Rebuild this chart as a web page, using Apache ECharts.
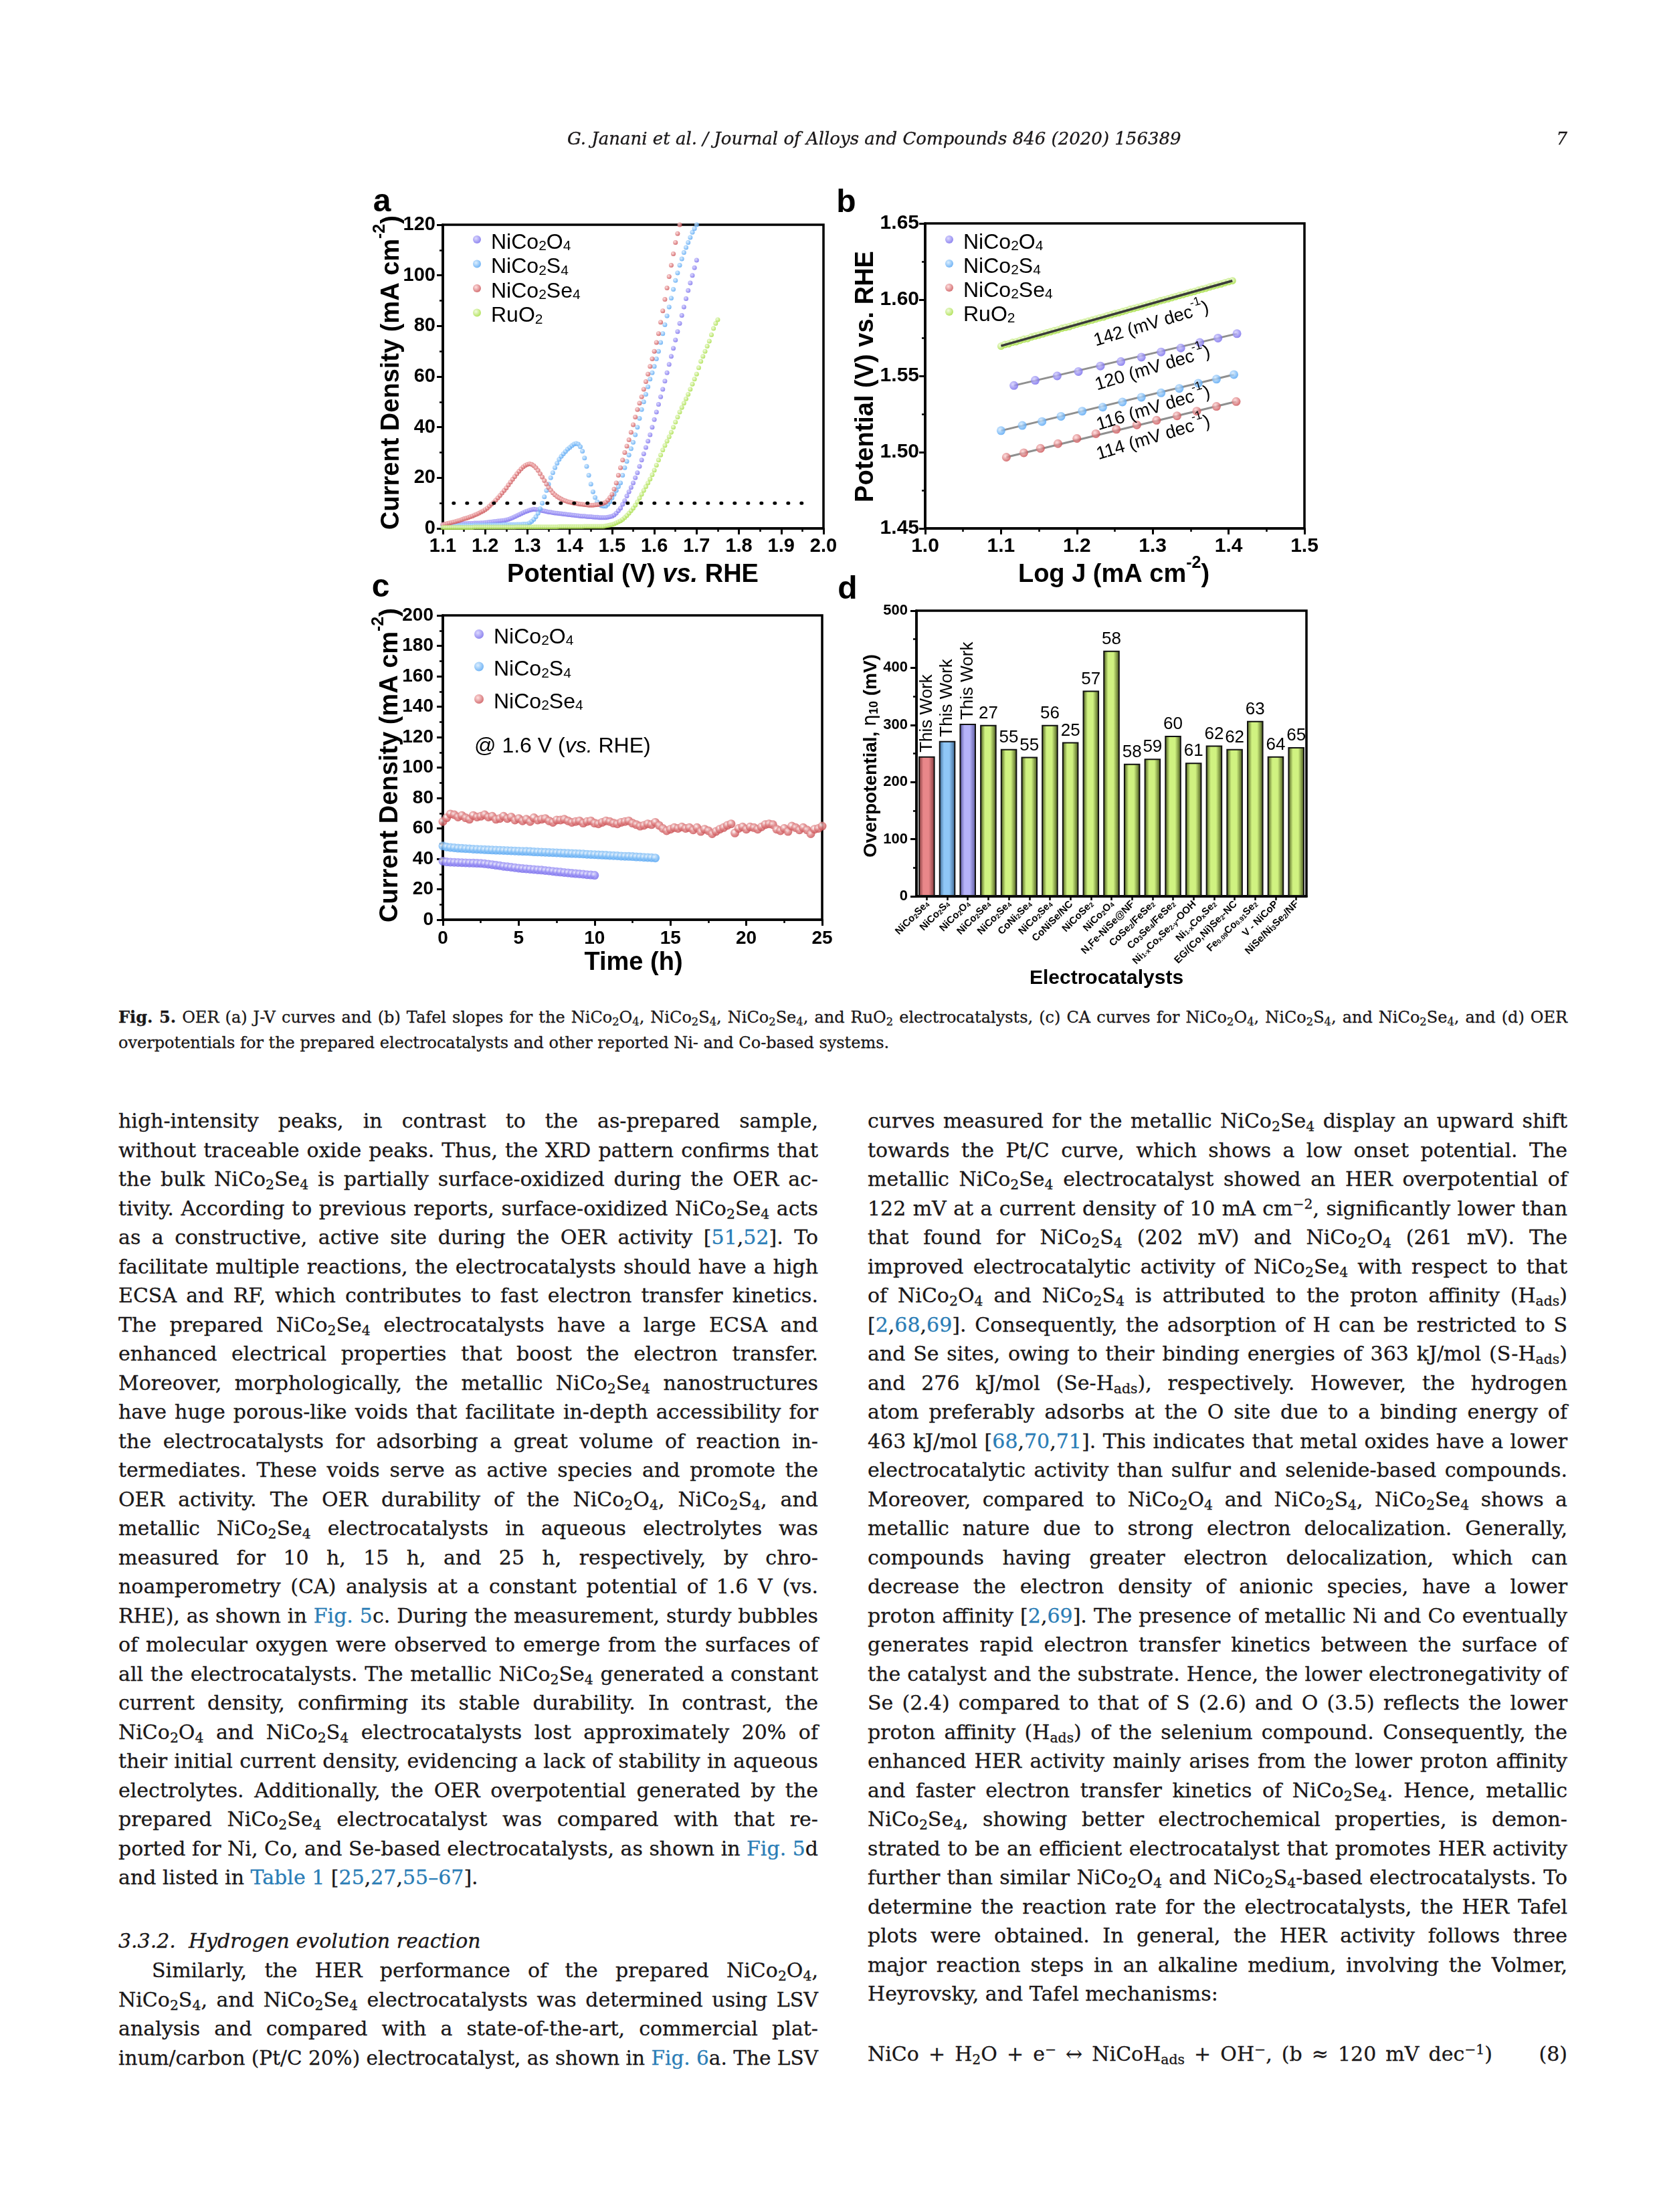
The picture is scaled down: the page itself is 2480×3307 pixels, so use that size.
<!DOCTYPE html>
<html lang="en"><head><meta charset="utf-8"><title>Fig. 5 – OER of NiCo2O4, NiCo2S4, NiCo2Se4</title>
<script src="https://cdn.jsdelivr.net/npm/echarts@6/dist/echarts.min.js"></script>
<style>
html,body{margin:0;padding:0;background:#fff}
body{width:2480px;height:3307px;position:relative;overflow:hidden}
#chart{position:absolute;left:0;top:0;width:2480px;height:1480px}
.ln{position:absolute;white-space:nowrap;font-family:"DejaVu Serif","Liberation Serif",serif;font-size:30px;line-height:44px;height:44px;color:#1a1718;-webkit-text-stroke:0.3px currentColor;transform-origin:0 50%}
.ln sub{font-size:0.68em;vertical-align:-0.25em;line-height:0}
.ln sup{font-size:0.68em;vertical-align:0.5em;line-height:0}
.ln a{color:#2a7db6;text-decoration:none}
.ln.cap{font-size:24px;line-height:38px;height:38px}
.ln.hd{font-size:26px;font-style:italic}
</style></head>
<body>
<div id="chart"></div>
<script>
// ---------------- DATA ----------------
// (a) LSV: potential (V vs RHE) and current density (mA cm-2)
const potentialV = [
1.100,1.105,1.110,1.115,1.120,1.125,1.130,1.135,1.140,1.145,
1.150,1.155,1.160,1.165,1.170,1.175,1.180,1.185,1.190,1.195,
1.200,1.205,1.210,1.215,1.220,1.225,1.230,1.235,1.240,1.245,
1.250,1.255,1.260,1.265,1.270,1.275,1.280,1.285,1.290,1.295,
1.300,1.305,1.310,1.315,1.320,1.325,1.330,1.335,1.340,1.345,
1.350,1.355,1.360,1.365,1.370,1.375,1.380,1.385,1.390,1.395,
1.400,1.405,1.410,1.415,1.420,1.425,1.430,1.435,1.440,1.445,
1.450,1.455,1.460,1.465,1.470,1.475,1.480,1.485,1.490,1.495,
1.500,1.505,1.510,1.515,1.520,1.525,1.530,1.535,1.540,1.545,
1.550,1.555,1.560,1.565,1.570,1.575,1.580,1.585,1.590,1.595,
1.600,1.605,1.610,1.615,1.620,1.625,1.630,1.635,1.640,1.645,
1.650,1.655,1.660,1.665,1.670,1.675,1.680,1.685,1.690,1.695,
1.700,1.705,1.710,1.715,1.720,1.725,1.730,1.735,1.740,1.745,
1.750];
const jvNiCo2O4 = [
1.5,1.5,1.6,1.6,1.7,1.7,1.8,1.8,1.8,1.9,
1.9,1.9,2.0,2.0,2.0,2.1,2.1,2.1,2.2,2.2,
2.3,2.4,2.5,2.6,2.7,2.8,2.9,3.0,3.1,3.2,
3.4,3.6,3.9,4.2,4.6,5.0,5.4,5.8,6.2,6.6,
6.9,7.2,7.4,7.6,7.5,7.4,7.2,7.0,6.9,6.7,
6.5,6.4,6.2,6.1,6.0,5.9,5.8,5.7,5.6,5.5,
5.4,5.3,5.2,5.1,5.0,4.9,4.8,4.8,4.7,4.6,
4.6,4.5,4.4,4.4,4.3,4.3,4.3,4.3,4.4,4.6,
4.8,5.3,6.0,7.0,8.0,9.5,11.0,12.8,14.5,16.2,
18.0,20.0,22.0,24.5,27.0,29.5,32.0,34.5,37.0,40.0,
43.0,46.0,49.0,52.0,55.0,58.2,61.5,64.8,68.0,71.2,
74.5,77.8,81.0,84.2,87.5,90.8,94.0,97.0,100.0,103.0,
106.0];
const jvNiCo2S4 = [
1.0,1.0,1.0,1.0,1.1,1.1,1.1,1.1,1.1,1.2,
1.2,1.2,1.2,1.2,1.2,1.3,1.3,1.3,1.3,1.3,
1.3,1.3,1.4,1.4,1.4,1.4,1.4,1.4,1.4,1.5,
1.5,1.5,1.5,1.5,1.5,1.6,1.6,1.6,1.7,1.7,
1.8,2.2,2.8,3.6,4.6,6.0,7.8,10.0,12.5,15.0,
17.5,20.0,22.0,24.0,25.8,27.3,28.5,29.5,30.4,31.3,
32.0,32.7,33.3,33.6,33.3,32.3,30.5,27.8,24.5,21.0,
17.5,14.5,12.2,10.5,9.5,9.0,8.8,8.8,9.5,10.5,
12.0,13.5,15.0,16.5,18.0,21.0,24.0,26.5,29.0,31.5,
34.0,37.0,40.0,43.5,47.0,50.0,53.0,56.0,59.0,61.5,
64.0,67.0,70.0,73.5,77.0,80.5,84.0,87.5,91.0,94.5,
98.0,101.0,104.0,106.5,109.0,111.0,113.0,115.0,117.0,118.5,
120.0];
const jvNiCo2Se4 = [
1.5,1.7,1.9,2.1,2.3,2.5,2.7,3.0,3.2,3.5,
3.8,4.0,4.3,4.6,4.9,5.3,5.6,6.0,6.5,6.9,
7.4,8.0,8.8,9.6,10.3,11.2,12.1,13.0,14.0,15.0,
16.0,17.2,18.3,19.4,20.5,21.6,22.6,23.5,24.3,24.9,
25.3,25.5,25.3,24.8,24.0,22.9,21.6,20.3,18.9,17.5,
16.2,15.1,14.1,13.3,12.6,12.1,11.6,11.2,10.9,10.6,
10.4,10.2,10.0,9.9,9.7,9.6,9.5,9.4,9.3,9.2,
9.2,9.2,9.3,9.4,9.5,9.7,10.0,10.4,11.2,12.2,
13.5,15.5,18.0,21.0,24.0,27.0,30.0,32.5,35.0,38.0,
41.0,44.0,47.0,49.5,52.0,55.0,58.0,61.0,64.0,67.0,
70.0,73.5,77.0,81.5,86.0,90.5,95.0,99.5,104.0,108.5,
113.0,116.5,120.0];
const jvRuO2 = [
0.4,0.4,0.4,0.4,0.4,0.4,0.4,0.4,0.4,0.4,
0.4,0.4,0.4,0.4,0.4,0.5,0.5,0.5,0.5,0.5,
0.5,0.5,0.5,0.5,0.5,0.5,0.5,0.5,0.5,0.5,
0.5,0.5,0.5,0.5,0.5,0.6,0.6,0.6,0.6,0.6,
0.6,0.6,0.6,0.6,0.6,0.6,0.6,0.6,0.6,0.6,
0.6,0.6,0.6,0.6,0.6,0.7,0.7,0.7,0.7,0.7,
0.7,0.7,0.7,0.7,0.7,0.7,0.7,0.8,0.8,0.8,
0.8,0.8,0.8,0.8,0.8,0.8,0.8,1.0,1.1,1.3,
1.5,1.8,2.2,2.6,3.0,3.6,4.3,5.1,6.0,7.0,
8.0,9.2,10.5,12.0,13.5,15.0,16.5,18.0,19.5,21.2,
23.0,25.0,27.0,29.0,31.0,32.8,34.5,36.2,38.0,40.0,
42.0,44.0,46.0,47.8,49.5,51.2,53.0,55.0,57.0,59.0,
61.0,63.5,66.0,68.0,70.0,72.0,74.0,76.5,79.0,81.0,
82.5];
const refLineJ10 = [[1.125, 10], [1.96, 10]];

// (b) Tafel: log J vs potential
const logJ_RuO2 = [1.100,1.105,1.110,1.115,1.120,1.125,1.130,1.135,1.140,1.145,1.150,1.155,1.160,1.165,1.170,1.175,1.180,1.185,1.190,1.195,1.200,1.205,1.210,1.215,1.220,1.225,1.230,1.235,1.240,1.245,1.250,1.255,1.260,1.265,1.270,1.275,1.280,1.285,1.290,1.295,1.300,1.305,1.310,1.315,1.320,1.325,1.330,1.335,1.340,1.345,1.350,1.355,1.360,1.365,1.370,1.375,1.380,1.385,1.390,1.395,1.400,1.405];
const E_RuO2 = [1.5695,1.5706,1.5710,1.5720,1.5724,1.5733,1.5741,1.5745,1.5755,1.5762,1.5768,1.5775,1.5783,1.5789,1.5797,1.5803,1.5812,1.5818,1.5823,1.5832,1.5839,1.5847,1.5852,1.5860,1.5866,1.5873,1.5881,1.5886,1.5895,1.5901,1.5909,1.5914,1.5922,1.5929,1.5937,1.5943,1.5950,1.5956,1.5964,1.5971,1.5978,1.5985,1.5993,1.5999,1.6005,1.6013,1.6020,1.6027,1.6033,1.6041,1.6048,1.6054,1.6062,1.6069,1.6075,1.6083,1.6090,1.6097,1.6103,1.6111,1.6118,1.6124];
const logJ_NiCo2O4 = [1.117,1.145,1.174,1.202,1.231,1.258,1.285,1.311,1.337,1.362,1.386,1.411];
const E_NiCo2O4 = [1.5437,1.5471,1.5500,1.5529,1.5565,1.5594,1.5623,1.5657,1.5683,1.5719,1.5748,1.5777];
const logJ_NiCo2S4 = [1.100,1.128,1.154,1.179,1.207,1.234,1.260,1.285,1.311,1.335,1.360,1.384,1.407];
const E_NiCo2S4 = [1.5141,1.5175,1.5201,1.5235,1.5269,1.5295,1.5329,1.5360,1.5389,1.5418,1.5452,1.5479,1.5509];
const logJ_NiCo2Se4 = [1.107,1.130,1.152,1.175,1.200,1.225,1.252,1.279,1.305,1.332,1.358,1.384,1.410];
const E_NiCo2Se4 = [1.4967,1.4996,1.5025,1.5056,1.5090,1.5121,1.5150,1.5179,1.5209,1.5238,1.5269,1.5300,1.5332];
const fitRuO2 = [[1.100,1.5697],[1.405,1.6124]];
const fitNiCo2O4 = [[1.117,1.5437],[1.411,1.5777]];
const fitNiCo2S4 = [[1.100,1.5141],[1.407,1.5509]];
const fitNiCo2Se4 = [[1.107,1.4967],[1.410,1.5332]];
const tafelSlopes = ['142','120','116','114'];

// (c) chronoamperometry at 1.6 V
const timeH = [
0,0.25,0.5,0.75,1,1.25,1.5,1.75,2,2.25,2.5,2.75,3,3.25,3.5,3.75,4,4.25,4.5,4.75,
5,5.25,5.5,5.75,6,6.25,6.5,6.75,7,7.25,7.5,7.75,8,8.25,8.5,8.75,9,9.25,9.5,9.75,
10,10.25,10.5,10.75,11,11.25,11.5,11.75,12,12.25,12.5,12.75,13,13.25,13.5,13.75,14,14.25,14.5,14.75,
15,15.25,15.5,15.75,16,16.25,16.5,16.75,17,17.25,17.5,17.75,18,18.25,18.5,18.75,19,19.25,19.5,19.75,
20,20.25,20.5,20.75,21,21.25,21.5,21.75,22,22.25,22.5,22.75,23,23.25,23.5,23.75,24,24.25,24.5,24.75,
25];
const caNiCo2O4 = [
38.5,38.0,37.8,37.7,37.6,37.5,37.4,37.3,37.2,37.1,37.0,36.8,36.5,36.2,35.8,35.5,35.1,34.8,34.5,34.2,
33.9,33.6,33.4,33.2,33.0,32.8,32.6,32.3,32.1,31.8,31.5,31.3,31.0,30.8,30.5,30.3,30.1,29.9,29.6,29.4,
29.2];
const caNiCo2S4 = [
48.5,47.8,47.5,47.3,47.0,46.9,46.7,46.6,46.4,46.3,46.2,46.0,45.9,45.8,45.7,45.6,45.5,45.4,45.3,45.2,
45.1,45.0,44.9,44.8,44.6,44.5,44.4,44.3,44.2,44.1,44.0,43.9,43.7,43.6,43.5,43.4,43.3,43.2,43.0,42.9,
42.8,42.6,42.5,42.4,42.2,42.1,42.0,41.8,41.7,41.6,41.5,41.3,41.2,41.0,40.9,40.8,40.6];
const caNiCo2Se4 = [
64.5,67.0,69.5,69.0,67.5,68.5,67.0,66.0,68.5,67.5,68.0,69.0,67.5,68.0,66.0,66.5,68.0,66.5,67.5,65.5,
66.5,65.0,66.0,64.5,67.0,65.5,66.0,66.5,65.0,64.0,65.5,65.5,66.0,65.0,64.0,64.5,65.0,63.5,64.5,65.0,
63.5,63.0,64.0,65.0,64.5,63.5,63.0,64.0,64.5,65.0,63.5,62.5,61.5,62.0,63.0,62.5,64.0,62.0,60.0,58.5,
59.5,60.5,60.0,61.0,60.0,60.5,59.0,60.5,58.0,59.5,58.5,56.5,58.0,59.5,60.5,62.0,63.0,57.0,60.0,61.0,
59.5,61.0,60.5,59.5,61.0,62.5,63.0,62.5,59.5,58.5,60.0,58.0,61.5,60.5,59.0,60.5,59.0,56.5,59.5,60.0,
61.5];

// (d) overpotential at 10 mA cm-2
const catalysts = ['NiCo{s|2}Se{s|4}','NiCo{s|2}S{s|4}','NiCo{s|2}O{s|4}','NiCo{s|2}Se{s|4}','NiCo{s|2}Se{s|4}','CoNi{s|2}Se{s|4}','NiCo{s|2}Se{s|4}','CoNiSe/NC','NiCoSe{s|2}','NiCo{s|2}O{s|4}','N,Fe-NiSe@NF','CoSe{s|2}/FeSe{s|2}','Co{s|3}Se{s|4}/FeSe{s|2}','Ni{s|1-x}Co{s|x}Se{s|2-y}-OOH','Ni{s|1-x}Co{s|x}Se{s|2}','EG/(Co,Ni)Se{s|2}-NC','Fe{s|0.09}Co{s|0.91}Se{s|2}','V - NiCoP','NiSe/Ni{s|3}Se{s|2}/NF'];
const overpotential = [245,272,302,300,258,244,300,270,360,430,232,241,281,234,264,258,307,245,261];
const refLabels = ['This Work','This Work','This Work','27','55','55','56','25','57','58','58','59','60','61','62','62','63','64','65'];

// ---------------- HELPERS ----------------
const FF = '"Liberation Sans", Arial, Helvetica, sans-serif';
function rs(F, w) {
  const lh = Math.round(F * 1.3), sf = Math.round(F * 0.66);
  const b = {fontFamily: FF, fontWeight: w, color: '#000'};
  return {
    n: Object.assign({}, b, {fontSize: F, lineHeight: lh, verticalAlign: 'bottom'}),
    i: Object.assign({}, b, {fontSize: F, lineHeight: lh, verticalAlign: 'bottom', fontStyle: 'italic'}),
    g: Object.assign({}, b, {fontSize: F, lineHeight: lh, verticalAlign: 'bottom', fontWeight: 'normal', fontFamily: '"DejaVu Sans", sans-serif'}),
    s: Object.assign({}, b, {fontSize: sf, lineHeight: sf, verticalAlign: 'bottom'}),
    p: Object.assign({}, b, {fontSize: sf, lineHeight: sf, verticalAlign: 'top'}),
    sp: {width: 10, fontSize: F, lineHeight: lh, verticalAlign: 'bottom'}
  };
}
function rt(str) {
  return str.split(/(\{[a-z]+\|[^}]*\})/).filter(function (t) { return t.length; })
    .map(function (t) { return t.charAt(0) === '{' ? t : '{n|' + t + '}'; }).join('');
}
function chem(name) { return rt(name.replace(/(\d+)/g, '{s|$1}')); }
function pairs(xs, ys) { return ys.map(function (y, i) { return [xs[i], y]; }); }
function sphere(c, light, mid) {
  return {type: 'radial', x: 0.38, y: 0.36, r: 0.68, colorStops: mid ?
    [{offset: 0, color: light}, {offset: 0.45, color: mid}, {offset: 1, color: c}] :
    [{offset: 0, color: light}, {offset: 1, color: c}]};
}
const COL = {
  NiCo2O4: ['#6f63ea', '#d4d0ff', '#9d95f5'],
  NiCo2S4: ['#4a9ff2', '#d4ebff', '#8cc4f7'],
  NiCo2Se4: ['#c7464a', '#ffd9d9', '#e08587'],
  RuO2: ['#9edb33', '#effbd8', '#c5ee84']
};

function valAxis(gi, min, max, interval, digits, F, margin) {
  return {
    type: 'value', gridIndex: gi, min: min, max: max, interval: interval, scale: false,
    axisLine: {show: true, onZero: false, lineStyle: {color: '#000', width: 3.5}},
    axisTick: {show: true, inside: false, length: 9, lineStyle: {color: '#000', width: 3}},
    minorTick: {show: true, splitNumber: 2, length: 5, lineStyle: {color: '#000', width: 2.5}},
    splitLine: {show: false}, minorSplitLine: {show: false},
    axisLabel: {show: true, margin: margin, fontFamily: FF, fontWeight: 'bold', fontSize: F, color: '#000',
      showMinLabel: true, showMaxLabel: true, hideOverlap: false,
      formatter: function (v) { return Number(v).toFixed(digits); }}
  };
}
function txt(str, x, y, F, w, rotDeg, align) {
  return {type: 'text', x: x, y: y, rotation: (rotDeg || 0) * Math.PI / 180, z: 100,
    style: {text: rt(str), rich: rs(F, w), fill: '#000', font: (w === 'bold' ? 'bold ' : '') + F + 'px ' + FF,
      align: align || 'center', verticalAlign: 'middle', textAlign: align || 'center', textVerticalAlign: 'middle'}};
}

// ---------------- SERIES ----------------
const series = [];
// (a)
[['NiCo2O4', jvNiCo2O4], ['NiCo2S4', jvNiCo2S4], ['NiCo2Se4', jvNiCo2Se4], ['RuO2', jvRuO2]].forEach(function (s) {
  series.push({name: s[0], type: 'scatter', xAxisIndex: 0, yAxisIndex: 0, data: pairs(potentialV, s[1]),
    symbol: 'circle', symbolSize: 7, itemStyle: {color: sphere(COL[s[0]][0], COL[s[0]][1])}, z: 3, silent: true});
});
series.push({name: 'j = 10 mA cm-2', type: 'line', xAxisIndex: 0, yAxisIndex: 0, data: refLineJ10, symbol: 'none',
  lineStyle: {color: '#000', width: 5, type: [1, 19], cap: 'round'}, z: 6, silent: true});
// (b)
[['NiCo2O4', logJ_NiCo2O4, E_NiCo2O4, fitNiCo2O4], ['NiCo2S4', logJ_NiCo2S4, E_NiCo2S4, fitNiCo2S4],
 ['NiCo2Se4', logJ_NiCo2Se4, E_NiCo2Se4, fitNiCo2Se4]].forEach(function (s) {
  series.push({name: 'fit ' + s[0], type: 'line', xAxisIndex: 1, yAxisIndex: 1, data: s[3], symbol: 'none',
    lineStyle: {color: '#8f8f8f', width: 3}, z: 2, silent: true});
  series.push({name: s[0], type: 'scatter', xAxisIndex: 1, yAxisIndex: 1, data: pairs(s[1], s[2]),
    symbol: 'circle', symbolSize: 13, itemStyle: {color: sphere(COL[s[0]][0], COL[s[0]][1])}, z: 3, silent: true});
});
series.push({name: 'RuO2', type: 'scatter', xAxisIndex: 1, yAxisIndex: 1, data: pairs(logJ_RuO2, E_RuO2),
  symbol: 'circle', symbolSize: 11, itemStyle: {color: sphere(COL.RuO2[0], COL.RuO2[1])}, z: 3, silent: true});
series.push({name: 'fit RuO2', type: 'line', xAxisIndex: 1, yAxisIndex: 1, data: fitRuO2, symbol: 'none',
  lineStyle: {color: '#3a3a3a', width: 3.5}, z: 4, silent: true});
// (c)
[['NiCo2O4', caNiCo2O4], ['NiCo2S4', caNiCo2S4], ['NiCo2Se4', caNiCo2Se4]].forEach(function (s) {
  series.push({name: s[0], type: 'scatter', xAxisIndex: 2, yAxisIndex: 2, data: pairs(timeH, s[1]),
    symbol: 'circle', symbolSize: 13, itemStyle: {color: sphere(COL[s[0]][0], '#ffffff', COL[s[0]][2])}, z: 3, silent: true});
});
// (d)
const barItems = overpotential.map(function (v, i) {
  const pal = i === 0 ? ['#e9878a', '#7a3436'] : i === 1 ? ['#8fc7f7', '#36618c'] : i === 2 ? ['#b6b3f9', '#514f96'] : ['#d0f281', '#3f4d14'];
  const lab = i < 3 ?
    {show: true, formatter: refLabels[i], position: 'top', rotate: 90, align: 'left', verticalAlign: 'middle', distance: 6,
      fontSize: 26, fontFamily: FF, color: '#000'} :
    {show: true, formatter: refLabels[i], position: 'top', distance: 4, fontSize: 26, fontFamily: FF, color: '#000'};
  return {value: v, label: lab, itemStyle: {borderColor: '#111', borderWidth: 2,
    color: {type: 'linear', x: 0, y: 0, x2: 1, y2: 0, colorStops: [
      {offset: 0, color: pal[1]}, {offset: 0.3, color: pal[0]}, {offset: 0.62, color: pal[0]}, {offset: 1, color: pal[1]}]}}};
});
series.push({name: 'Overpotential', type: 'bar', xAxisIndex: 3, yAxisIndex: 3, data: barItems, barWidth: '80%', z: 3, silent: true});

// ---------------- AXES ----------------
const xA = valAxis(0, 1.1, 2.0, 0.1, 1, 29, 12);
const yA = valAxis(0, 0, 120, 20, 0, 29, 11);
const xB = valAxis(1, 1.0, 1.5, 0.1, 1, 30, 12);
const yB = valAxis(1, 1.45, 1.65, 0.05, 2, 30, 9);
const xC = valAxis(2, 0, 25, 5, 0, 28, 14);
const yC = valAxis(2, 0, 200, 20, 0, 28, 14);
const yD = valAxis(3, 0, 500, 100, 0, 22, 13);
const dRich = {
  n: {fontFamily: FF, fontWeight: 'bold', fontSize: 15, lineHeight: 19, verticalAlign: 'bottom', color: '#000'},
  s: {fontFamily: FF, fontWeight: 'bold', fontSize: 10, lineHeight: 10, verticalAlign: 'bottom', color: '#000'}
};
const xD = {
  type: 'category', gridIndex: 3, data: catalysts, boundaryGap: true,
  axisLine: {show: true, onZero: false, lineStyle: {color: '#000', width: 3.5}},
  axisTick: {show: true, alignWithLabel: true, length: 6, lineStyle: {color: '#000', width: 2.5}},
  splitLine: {show: false},
  axisLabel: {show: true, interval: 0, rotate: 45, margin: 8, fontFamily: FF, fontWeight: 'bold', fontSize: 15, color: '#000',
    hideOverlap: false, formatter: function (v) { return rt(v); }, rich: dRich}
};

// ---------------- LEGENDS ----------------
function legend(names, left, top, icon, gap) {
  return {data: names, orient: 'vertical', left: left, top: top, itemWidth: icon, itemHeight: icon, itemGap: gap,
    icon: 'circle', selectedMode: false, padding: 0,
    formatter: function (n) { return '{sp| }' + chem(n); },
    textStyle: {fontFamily: FF, fontSize: 32, color: '#000', rich: rs(32, 'normal')}};
}

// ---------------- GRAPHIC TEXT ----------------
const graphics = [
  txt('a', 571, 296, 48, 'bold'), txt('b', 1265, 297, 48, 'bold'),
  txt('c', 569, 872, 48, 'bold'), txt('d', 1267, 875, 48, 'bold'),
  txt('Potential (V) {i|vs.} RHE', 946, 854, 38, 'bold'),
  txt('Current Density (mA cm{p|-2})', 580, 557, 38, 'bold', 90),
  txt('Log J (mA cm{p|-2})', 1665, 854, 38, 'bold'),
  txt('Potential (V) vs. RHE', 1289, 563, 38, 'bold', 90),
  txt('Time (h)', 947, 1434, 38, 'bold'),
  txt('Current Density (mA cm{p|-2})', 578, 1144, 38, 'bold', 90),
  txt('@ 1.6 V ({i|vs.} RHE)', 709, 1111, 32, 'normal', 0, 'left'),
  txt('Electrocatalysts', 1654, 1458, 30, 'bold'),
  txt('Overpotential, {g|η}{s|10} (mV)', 1298, 1130, 28, 'bold', 90),
  txt(tafelSlopes[0] + ' (mV dec{p|-1})', 1720, 481, 27, 'normal', 16.6),
  txt(tafelSlopes[1] + ' (mV dec{p|-1})', 1722, 547, 27, 'normal', 16.6),
  txt(tafelSlopes[2] + ' (mV dec{p|-1})', 1723, 607, 27, 'normal', 16.6),
  txt(tafelSlopes[3] + ' (mV dec{p|-1})', 1723, 651, 27, 'normal', 16.6)
];

const gridBase = {show: true, borderColor: '#000', borderWidth: 3.5, backgroundColor: 'transparent', containLabel: false, outerBoundsMode: 'none'};
const option = {
  animation: false,
  backgroundColor: 'transparent',
  textStyle: {fontFamily: FF},
  grid: [
    Object.assign({left: 662, top: 336, width: 569, height: 454}, gridBase),
    Object.assign({left: 1383, top: 334, width: 567, height: 456}, gridBase),
    Object.assign({left: 662, top: 920, width: 567, height: 455}, gridBase),
    Object.assign({left: 1370, top: 913, width: 583, height: 427}, gridBase)
  ],
  xAxis: [xA, xB, xC, xD],
  yAxis: [yA, yB, yC, yD],
  legend: [
    legend(['NiCo2O4', 'NiCo2S4', 'NiCo2Se4', 'RuO2'], 707, 347, 12, 4.5),
    legend(['NiCo2O4', 'NiCo2S4', 'NiCo2Se4', 'RuO2'], 1413, 347, 12, 4.0),
    legend(['NiCo2O4', 'NiCo2S4', 'NiCo2Se4'], 709, 937, 14, 16.5)
  ],
  graphic: {elements: graphics},
  series: series
};
const chart = echarts.init(document.getElementById('chart'), null, {renderer: 'canvas', width: 2480, height: 1480});
chart.setOption(option);

// ---------------- PAGE TEXT ----------------
function expand(h) {
  return h.replace(/\[Se\]/g, 'NiCo<sub>2</sub>Se<sub>4</sub>')
          .replace(/\[S\]/g, 'NiCo<sub>2</sub>S<sub>4</sub>')
          .replace(/\[O\]/g, 'NiCo<sub>2</sub>O<sub>4</sub>');
}
const lines = [];
function addLine(html, x, yc, w, just, cls, lh) {
  const d = document.createElement('div');
  d.className = 'ln' + (cls ? ' ' + cls : '');
  d.innerHTML = expand(html);
  d.style.left = x + 'px';
  d.style.top = (yc - (lh || 44) / 2 - 2) + 'px';
  document.body.appendChild(d);
  lines.push({d: d, w: w, just: just});
  return d;
}
const LX = 177, RX = 1297, CW = 1046, Y0 = 1678, DY = 43.5;
const leftLines = [
'high-intensity peaks, in contrast to the as-prepared sample,',
'without traceable oxide peaks. Thus, the XRD pattern confirms that',
'the bulk [Se] is partially surface-oxidized during the OER ac-',
'tivity. According to previous reports, surface-oxidized [Se] acts',
'as a constructive, active site during the OER activity [<a>51</a>,<a>52</a>]. To',
'facilitate multiple reactions, the electrocatalysts should have a high',
'ECSA and RF, which contributes to fast electron transfer kinetics.',
'The prepared [Se] electrocatalysts have a large ECSA and',
'enhanced electrical properties that boost the electron transfer.',
'Moreover, morphologically, the metallic [Se] nanostructures',
'have huge porous-like voids that facilitate in-depth accessibility for',
'the electrocatalysts for adsorbing a great volume of reaction in-',
'termediates. These voids serve as active species and promote the',
'OER activity. The OER durability of the [O], [S], and',
'metallic [Se] electrocatalysts in aqueous electrolytes was',
'measured for 10 h, 15 h, and 25 h, respectively, by chro-',
'noamperometry (CA) analysis at a constant potential of 1.6 V (vs.',
'RHE), as shown in <a>Fig. 5</a>c. During the measurement, sturdy bubbles',
'of molecular oxygen were observed to emerge from the surfaces of',
'all the electrocatalysts. The metallic [Se] generated a constant',
'current density, confirming its stable durability. In contrast, the',
'[O] and [S] electrocatalysts lost approximately 20% of',
'their initial current density, evidencing a lack of stability in aqueous',
'electrolytes. Additionally, the OER overpotential generated by the',
'prepared [Se] electrocatalyst was compared with that re-',
'ported for Ni, Co, and Se-based electrocatalysts, as shown in <a>Fig. 5</a>d',
'and listed in <a>Table 1</a> [<a>25</a>,<a>27</a>,<a>55–67</a>].'
];
leftLines.forEach(function (t, i) { addLine(t, LX, Y0 + DY * i, CW, i < leftLines.length - 1); });
addLine('<i>3.3.2.&nbsp;&nbsp;Hydrogen evolution reaction</i>', LX, 2904, CW, false);
const leftLines2 = [
'Similarly, the HER performance of the prepared [O],',
'[S], and [Se] electrocatalysts was determined using LSV',
'analysis and compared with a state-of-the-art, commercial plat-',
'inum/carbon (Pt/C 20%) electrocatalyst, as shown in <a>Fig. 6</a>a. The LSV'
];
leftLines2.forEach(function (t, i) {
  const ind = i === 0 ? 50 : 0;
  addLine(t, LX + ind, 2948 + DY * i, CW - ind, true);
});
const rightLines = [
'curves measured for the metallic [Se] display an upward shift',
'towards the Pt/C curve, which shows a low onset potential. The',
'metallic [Se] electrocatalyst showed an HER overpotential of',
'122 mV at a current density of 10 mA cm<sup>−2</sup>, significantly lower than',
'that found for [S] (202 mV) and [O] (261 mV). The',
'improved electrocatalytic activity of [Se] with respect to that',
'of [O] and [S] is attributed to the proton affinity (H<sub>ads</sub>)',
'[<a>2</a>,<a>68</a>,<a>69</a>]. Consequently, the adsorption of H can be restricted to S',
'and Se sites, owing to their binding energies of 363 kJ/mol (S-H<sub>ads</sub>)',
'and 276 kJ/mol (Se-H<sub>ads</sub>), respectively. However, the hydrogen',
'atom preferably adsorbs at the O site due to a binding energy of',
'463 kJ/mol [<a>68</a>,<a>70</a>,<a>71</a>]. This indicates that metal oxides have a lower',
'electrocatalytic activity than sulfur and selenide-based compounds.',
'Moreover, compared to [O] and [S], [Se] shows a',
'metallic nature due to strong electron delocalization. Generally,',
'compounds having greater electron delocalization, which can',
'decrease the electron density of anionic species, have a lower',
'proton affinity [<a>2</a>,<a>69</a>]. The presence of metallic Ni and Co eventually',
'generates rapid electron transfer kinetics between the surface of',
'the catalyst and the substrate. Hence, the lower electronegativity of',
'Se (2.4) compared to that of S (2.6) and O (3.5) reflects the lower',
'proton affinity (H<sub>ads</sub>) of the selenium compound. Consequently, the',
'enhanced HER activity mainly arises from the lower proton affinity',
'and faster electron transfer kinetics of [Se]. Hence, metallic',
'[Se], showing better electrochemical properties, is demon-',
'strated to be an efficient electrocatalyst that promotes HER activity',
'further than similar [O] and [S]-based electrocatalysts. To',
'determine the reaction rate for the electrocatalysts, the HER Tafel',
'plots were obtained. In general, the HER activity follows three',
'major reaction steps in an alkaline medium, involving the Volmer,',
'Heyrovsky, and Tafel mechanisms:'
];
rightLines.forEach(function (t, i) { addLine(t, RX, Y0 + DY * i, CW, i < rightLines.length - 1); });
addLine('NiCo + H<sub>2</sub>O + e<sup>−</sup> ↔ NiCoH<sub>ads</sub> + OH<sup>−</sup>, (b ≈ 120 mV dec<sup>−1</sup>)', RX, 3073, 934, true);
const eqn = addLine('(8)', RX, 3073, 200, false);
// caption
addLine('<b>Fig. 5.</b> OER (a) J-V curves and (b) Tafel slopes for the [O], [S], [Se], and RuO<sub>2</sub> electrocatalysts, (c) CA curves for [O], [S], and [Se], and (d) OER', LX, 1523, 2166, true, 'cap', 38);
addLine('overpotentials for the prepared electrocatalysts and other reported Ni- and Co-based systems.', LX, 1561, 2166, false, 'cap', 38);
// running header
const hdr = addLine('G. Janani et al. / Journal of Alloys and Compounds 846 (2020) 156389', 848, 209, 2000, false, 'hd', 44);
const pg = addLine('7', 0, 209, 100, false, 'hd', 44);

function fit() {
  lines.forEach(function (L) {
    const d = L.d;
    d.style.wordSpacing = '0px';
    d.style.transform = 'none';
    const nat = d.getBoundingClientRect().width;
    if (L.just) {
      const sp = (d.textContent.match(/ /g) || []).length;
      if (nat > L.w) d.style.transform = 'scaleX(' + (L.w / nat) + ')';
      else if (sp) d.style.wordSpacing = ((L.w - nat) / sp) + 'px';
    } else if (nat > L.w) {
      d.style.transform = 'scaleX(' + (L.w / nat) + ')';
    }
  });
  pg.style.left = (2343 - pg.getBoundingClientRect().width) + 'px';
  eqn.style.left = (2343 - eqn.getBoundingClientRect().width) + 'px';
}
fit();
if (document.fonts && document.fonts.ready) document.fonts.ready.then(fit);
</script>
</body></html>
